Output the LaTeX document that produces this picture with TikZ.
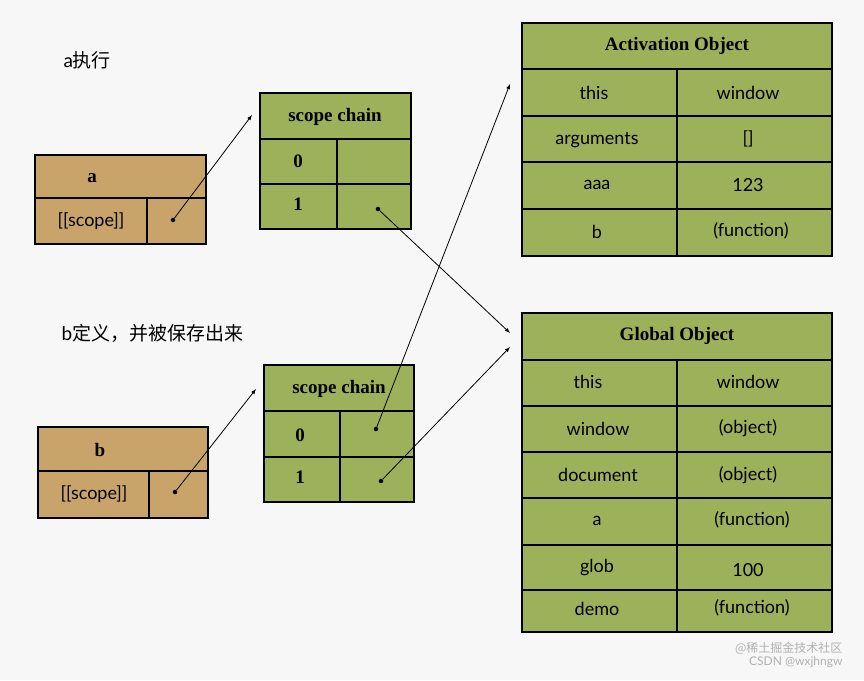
\documentclass[tikz,border=0pt]{standalone}
\usepackage{fontspec}
\setmainfont{Liberation Serif}
\setsansfont{Lato}
\newfontfamily\cjk{Noto Sans CJK SC}
\begin{document}
\begin{tikzpicture}[x=1pt,y=-1pt,
  grn/.style={fill=green!30!olive!60!white, draw=black, line width=1.6pt},
  tan/.style={fill=brown!60!orange!55!white, draw=black, line width=1.6pt},
  hd/.style={font=\fontsize{19}{20}\selectfont\bfseries},
  cl/.style={font=\sffamily\fontsize{18}{20}\selectfont},
  dot/.style={circle,fill=black,inner sep=1.6pt},
  arr/.style={-latex, line width=0.8pt}]
\definecolor{gc}{HTML}{9DB15B}\definecolor{tc}{HTML}{C8A46B}
\fill[gray!6] (0,0) rectangle (864,680);
\useasboundingbox (0,0) rectangle (864,680);
% box a
\draw[tan,fill=tc] (35,155) rectangle (206,244); \draw[line width=1.6pt] (35,198)--(206,198) (147,198)--(147,244);
\node[hd] (ah) at (92,178) {a};
\node[cl] (as) at (91,221) {[[scope]]};
\node[dot] (ad) at (173,220) {};
% box b
\draw[tan,fill=tc] (38,427) rectangle (208,518); \draw[line width=1.6pt] (38,471)--(208,471) (149,471)--(149,518);
\node[hd] (bh) at (100,450) {b};
\node[cl] (bs) at (94,494) {[[scope]]};
\node[dot] (bd) at (175,492) {};
% scope chain 1
\draw[grn,fill=gc] (260,93) rectangle (411,229); \draw[line width=1.6pt] (260,139)--(411,139) (260,184)--(411,184) (337,139)--(337,229);
\node[hd] (s1h) at (335,117) {scope chain};
\node[hd] (s10) at (298,161) {0};
\node[hd] (s11) at (298,204) {1};
\node[dot] (s1d) at (378,209) {};
% scope chain 2
\draw[grn,fill=gc] (264,365) rectangle (414,502); \draw[line width=1.6pt] (264,411)--(414,411) (264,457)--(414,457) (340,411)--(340,502);
\node[hd] (s2h) at (339,389) {scope chain};
\node[hd] (s20) at (300,435) {0};
\node[hd] (s21) at (300,477) {1};
\node[dot] (s2a) at (376,429) {};
\node[dot] (s2b) at (381,481) {};
% Activation Object
\draw[grn,fill=gc] (522,23) rectangle (832,256);
\foreach \y in {69,116,162,209} \draw[line width=1.6pt] (522,\y)--(832,\y);
\draw[line width=1.6pt] (677,69)--(677,256);
\node[hd] (AO) at (677,46) {Activation Object};
\node[cl] (a1) at (594,93) {this}; \node[cl] (a1v) at (748,93) {window};
\node[cl] (a2) at (597,140) {arguments}; \node[cl] (a2v) at (748,139) {[]};
\node[cl] (a3) at (597,185) {aaa}; \node[cl] (a3v) at (748,185) {123};
\node[cl] (a4) at (597,232) {b}; \node[cl] (a4v) at (751,231) {(function)};
% Global Object
\draw[grn,fill=gc] (522,313) rectangle (832,632);
\foreach \y in {360,406,452,498,545,590} \draw[line width=1.6pt] (522,\y)--(832,\y);
\draw[line width=1.6pt] (677,360)--(677,632);
\node[hd] (GO) at (677,336) {Global Object};
\node[cl] (g1) at (588,382) {this}; \node[cl] (g1v) at (748,382) {window};
\node[cl] (g2) at (598,429) {window}; \node[cl] (g2v) at (748,428) {(object)};
\node[cl] (g3) at (598,475) {document}; \node[cl] (g3v) at (748,475) {(object)};
\node[cl] (g4) at (597,521) {a}; \node[cl] (g4v) at (752,520) {(function)};
\node[cl] (g5) at (597,568) {glob}; \node[cl] (g5v) at (748,570) {100};
\node[cl] (g6) at (597,609) {demo}; \node[cl] (g6v) at (752,608) {(function)};
% labels
\node[anchor=west,font=\sffamily\fontsize{19}{20}\selectfont] (la) at (60,60) {a{\cjk 执行}};
\node[anchor=west,font=\sffamily\fontsize{19}{20}\selectfont] (lb) at (58,333) {b{\cjk 定义，并被保存出来}};
\node[anchor=east,text=gray!60,font=\cjk\fontsize{12}{13}\selectfont] (w1) at (846,648) {@稀土掘金技术社区};
\node[anchor=east,text=gray!60,font=\sffamily\fontsize{12}{13}\selectfont] (w2) at (846,662) {CSDN @wxjhngw};
% arrows
\coordinate (t1) at (252,115); \coordinate (t2) at (510,333); \coordinate (t3) at (256,389);
\coordinate (t4) at (510,84); \coordinate (t5) at (510,347);
\draw[arr] (ad)--(t1); \draw[arr] (s1d)--(t2); \draw[arr] (bd)--(t3);
\draw[arr] (s2a)--(t4); \draw[arr] (s2b)--(t5);
\end{tikzpicture}
\end{document}
